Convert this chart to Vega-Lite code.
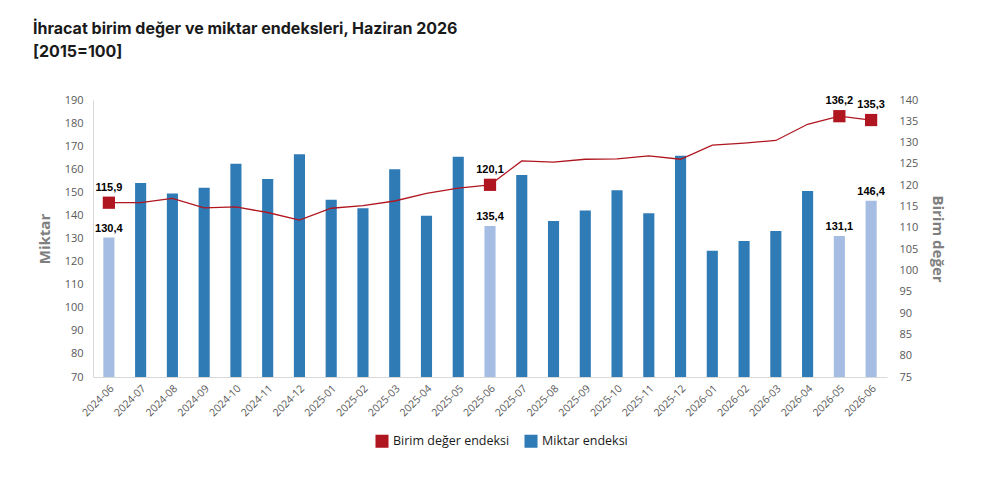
{
  "$schema": "https://vega.github.io/schema/vega-lite/v6.json",
  "autosize": "none",
  "width": 794,
  "height": 277,
  "padding": {"left": 93, "top": 100, "right": 96, "bottom": 101},
  "background": "white",
  "title": {
    "text": ["İhracat birim değer ve miktar endeksleri, Haziran 2026", "[2015=100]"],
    "anchor": "start",
    "frame": "group",
    "dx": -60,
    "offset": 34,
    "font": "Inter",
    "fontSize": 16,
    "fontWeight": "bold",
    "color": "#1a1a1a",
    "lineHeight": 23
  },
  "data": {
    "values": [
      {"ay": "2024-06", "miktar": 130.4, "birim": 115.9},
      {"ay": "2024-07", "miktar": 154.0, "birim": 115.9},
      {"ay": "2024-08", "miktar": 149.5, "birim": 116.9},
      {"ay": "2024-09", "miktar": 152.0, "birim": 114.7},
      {"ay": "2024-10", "miktar": 162.4, "birim": 114.9},
      {"ay": "2024-11", "miktar": 155.8, "birim": 113.6},
      {"ay": "2024-12", "miktar": 166.5, "birim": 111.8},
      {"ay": "2025-01", "miktar": 146.8, "birim": 114.6},
      {"ay": "2025-02", "miktar": 143.1, "birim": 115.2},
      {"ay": "2025-03", "miktar": 160.0, "birim": 116.3},
      {"ay": "2025-04", "miktar": 139.9, "birim": 118.1},
      {"ay": "2025-05", "miktar": 165.4, "birim": 119.3},
      {"ay": "2025-06", "miktar": 135.4, "birim": 120.1},
      {"ay": "2025-07", "miktar": 157.5, "birim": 125.7},
      {"ay": "2025-08", "miktar": 137.6, "birim": 125.4},
      {"ay": "2025-09", "miktar": 142.1, "birim": 126.1},
      {"ay": "2025-10", "miktar": 150.9, "birim": 126.2},
      {"ay": "2025-11", "miktar": 140.9, "birim": 126.9},
      {"ay": "2025-12", "miktar": 165.9, "birim": 126.1},
      {"ay": "2026-01", "miktar": 124.7, "birim": 129.4},
      {"ay": "2026-02", "miktar": 128.9, "birim": 129.9},
      {"ay": "2026-03", "miktar": 133.3, "birim": 130.5},
      {"ay": "2026-04", "miktar": 150.6, "birim": 134.3},
      {"ay": "2026-05", "miktar": 131.1, "birim": 136.2},
      {"ay": "2026-06", "miktar": 146.4, "birim": 135.3}
    ]
  },
  "transform": [
    {"calculate": "indexof(['2024-06','2025-06','2026-05','2026-06'], datum.ay) >= 0", "as": "vurgu"},
    {"calculate": "'Miktar endeksi'", "as": "seri_m"},
    {"calculate": "'Birim değer endeksi'", "as": "seri_b"}
  ],
  "encoding": {
    "x": {
      "field": "ay",
      "type": "ordinal",
      "scale": {"paddingInner": 0.65, "paddingOuter": 0.325},
      "axis": {
        "title": null,
        "labelAngle": -45,
        "labelFont": "Open Sans",
        "labelFontSize": 10.5,
        "labelColor": "#595959",
        "labelPadding": 6,
        "ticks": false,
        "domainColor": "#d9d9d9"
      }
    }
  },
  "layer": [
    {
      "encoding": {
        "y": {
          "field": "miktar",
          "type": "quantitative",
          "scale": {"domain": [70, 190], "zero": false, "nice": false},
          "axis": {
            "title": "Miktar",
            "values": [70, 80, 90, 100, 110, 120, 130, 140, 150, 160, 170, 180, 190],
            "grid": false,
            "ticks": false,
            "domainColor": "#d9d9d9",
            "labelFont": "Open Sans",
            "labelFontSize": 11,
            "labelColor": "#595959",
            "labelPadding": 10,
            "titleFont": "Open Sans",
            "titleFontSize": 15,
            "titleFontWeight": "bold",
            "titleColor": "#7f7f7f",
            "titlePadding": 12
          }
        }
      },
      "layer": [
        {
          "mark": {"type": "bar"},
          "encoding": {
            "y2": {"datum": 70},
            "color": {
              "field": "seri_m",
              "type": "nominal",
              "scale": {"domain": ["Birim değer endeksi", "Miktar endeksi"], "range": ["#b0161f", "#2f7bb6"]},
              "legend": {
                "title": null,
                "orient": "none",
                "legendX": 282,
                "legendY": 334,
                "direction": "horizontal",
                "symbolType": "square",
                "symbolSize": 170,
                "symbolStrokeWidth": 0,
                "labelFont": "Open Sans",
                "labelFontSize": 12.5,
                "labelColor": "#1a1a1a",
                "columnPadding": 14
              },
              "condition": {"test": "datum.vurgu", "value": "#a6bde3"}
            }
          }
        },
        {
          "transform": [{"filter": "datum.vurgu"}],
          "mark": {"type": "text", "baseline": "bottom", "dy": -4, "font": "Liberation Sans", "fontWeight": "bold", "fontSize": 11, "color": "#000000"},
          "encoding": {"text": {"field": "miktar", "type": "quantitative", "format": ".1f"}}
        }
      ]
    },
    {
      "encoding": {
        "y": {
          "field": "birim",
          "type": "quantitative",
          "scale": {"domain": [75, 140], "zero": false, "nice": false},
          "axis": {
            "title": "Birim değer",
            "orient": "right",
            "values": [75, 80, 85, 90, 95, 100, 105, 110, 115, 120, 125, 130, 135, 140],
            "grid": false,
            "ticks": false,
            "domain": false,
            "labelFont": "Open Sans",
            "labelFontSize": 11,
            "labelColor": "#595959",
            "labelPadding": 12,
            "titleFont": "Open Sans",
            "titleFontSize": 15,
            "titleFontWeight": "bold",
            "titleColor": "#7f7f7f",
            "titlePadding": 12
          }
        }
      },
      "layer": [
        {
          "mark": {"type": "line", "strokeWidth": 1.3},
          "encoding": {
            "color": {"field": "seri_b", "type": "nominal"}
          }
        },
        {
          "transform": [{"filter": "datum.vurgu"}],
          "mark": {"type": "point", "shape": "square", "filled": true, "size": 150, "opacity": 1},
          "encoding": {
            "color": {"field": "seri_b", "type": "nominal"}
          }
        },
        {
          "transform": [{"filter": "datum.vurgu"}],
          "mark": {"type": "text", "baseline": "bottom", "dy": -10, "font": "Liberation Sans", "fontWeight": "bold", "fontSize": 11, "color": "#000000"},
          "encoding": {"text": {"field": "birim", "type": "quantitative", "format": ".1f"}}
        }
      ]
    }
  ],
  "resolve": {"scale": {"y": "independent"}},
  "config": {
    "view": {"stroke": null},
    "locale": {
      "number": {"decimal": ",", "thousands": ".", "grouping": [3], "currency": ["", " TL"]}
    }
  }
}
